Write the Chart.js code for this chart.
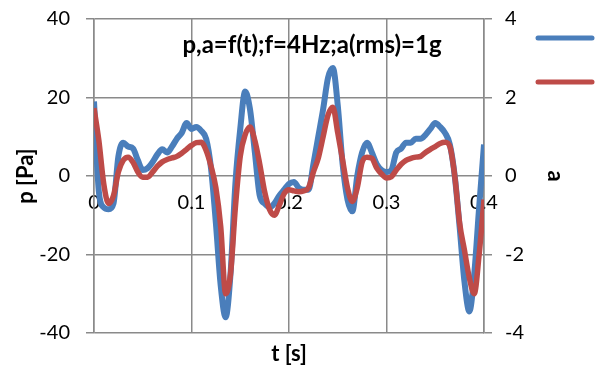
<!DOCTYPE html>
<html>
<head>
<meta charset="utf-8">
<script src="https://cdn.jsdelivr.net/npm/chart.js@4/dist/chart.umd.min.js"></script>
<style>
  html, body { margin: 0; padding: 0; background: #fff; }
  #wrap { width: 595px; height: 367px; }
</style>
</head>
<body>
<div id="wrap"><canvas id="myChart" width="595" height="367"></canvas></div>
<script>
// time [s]
var tValues = [0,0.005,0.01,0.015,0.02,0.025,0.03,0.035,0.04,0.045,
  0.05,0.055,0.06,0.065,0.07,0.075,0.08,0.085,0.09,0.095,
  0.1,0.105,0.11,0.115,0.12,0.125,0.13,0.135,0.14,0.145,
  0.15,0.155,0.16,0.165,0.17,0.175,0.18,0.185,0.19,0.195,
  0.2,0.205,0.21,0.215,0.22,0.225,0.23,0.235,0.24,0.245,
  0.25,0.255,0.26,0.265,0.27,0.275,0.28,0.285,0.29,0.295,
  0.3,0.305,0.31,0.315,0.32,0.325,0.33,0.335,0.34,0.345,
  0.35,0.355,0.36,0.365,0.37,0.375,0.38,0.385,0.39,0.395,0.4];

// pressure p [Pa] (blue, left axis)
var pValues = [19,-4,-8,-8.5,-7,5,8.5,7.5,7,4,
  1.5,2,3.5,5.5,6.8,6,7.5,9.5,11,13.5,
  12,12.5,11.5,9.5,2,-12,-28,-36,-25,-2,
  12,21.5,17,6,-5,-7,-8,-7,-5,-3.5,
  -2,-1.5,-3,-3.5,-3.5,3,10,17,25,27.5,
  18,3,-6,-9,0,6,8.5,6,3,1.5,
  1,1.5,6,7,8.5,8.5,9.5,9.5,10.5,12,
  13.5,12.5,11,8,0,-13,-27,-34.5,-25,-8,8];

// acceleration a (red, right axis)
var aValues = [1.73,0.9,-0.2,-0.7,-0.5,0.1,0.4,0.48,0.35,0.1,
  -0.03,-0.03,0.1,0.25,0.36,0.42,0.46,0.5,0.58,0.68,
  0.78,0.85,0.86,0.65,0.25,-0.3,-1.3,-3.0,-2.5,-0.8,
  0.5,1.05,1.25,0.9,0.3,-0.4,-0.85,-1.0,-0.75,-0.45,
  -0.35,-0.38,-0.4,-0.38,-0.3,0.1,0.45,1.0,1.55,1.75,
  1.1,0.4,-0.3,-0.65,-0.3,0.35,0.48,0.45,0.2,0.05,
  -0.05,-0.02,0.15,0.3,0.4,0.45,0.48,0.5,0.6,0.68,
  0.75,0.83,0.86,0.75,0,-1.2,-1.9,-2.6,-3.0,-2.0,-0.6];

var pPoints = tValues.map(function (t, i) { return {x: t, y: pValues[i]}; });
var aPoints = tValues.map(function (t, i) { return {x: t, y: aValues[i]}; });

var gridColor = "#8a8a8a";
var fontName = "Lato, 'Open Sans', sans-serif";

var extras = {
  id: "extras",
  afterDraw: function (chart) {
    var ctx = chart.ctx;
    ctx.save();
    ctx.fillStyle = "#000";
    ctx.font = "bold 24px " + fontName;
    ctx.textAlign = "center";
    ctx.textBaseline = "middle";
    ctx.fillText("p,a=f(t);f=4Hz;a(rms)=1g", 312, 45);
    // legend keys
    ctx.lineCap = "round";
    ctx.lineWidth = 5;
    ctx.strokeStyle = "#4a7ebb";
    ctx.beginPath(); ctx.moveTo(538, 38); ctx.lineTo(592, 38); ctx.stroke();
    ctx.strokeStyle = "#be4b48";
    ctx.beginPath(); ctx.moveTo(538, 82); ctx.lineTo(592, 82); ctx.stroke();
    ctx.restore();
  }
};

function fitY(w) {
  return function (s) {
    s.width = w;
    s.paddingTop = 12;
    s.paddingBottom = 12;
  };
}

new Chart("myChart", {
  type: "line",
  data: {
    datasets: [{
      label: "a",
      data: aPoints,
      yAxisID: "y2",
      borderColor: "#be4b48",
      borderWidth: 5.5,
      pointRadius: 0,
      cubicInterpolationMode: "monotone",
      fill: false,
      order: 0
    }, {
      label: "p",
      data: pPoints,
      yAxisID: "y",
      borderColor: "#4a7ebb",
      borderWidth: 6,
      pointRadius: 0,
      cubicInterpolationMode: "monotone",
      fill: false,
      order: 1
    }]
  },
  options: {
    responsive: false,
    animation: false,
    layout: {padding: {top: 19, right: 0, bottom: 0, left: 0}},
    plugins: {
      legend: {display: false},
      tooltip: {enabled: false}
    },
    scales: {
      x: {
        type: "linear",
        position: {y: 0},
        min: 0, max: 0.4,
        grid: {color: gridColor, lineWidth: 1.5, drawTicks: false},
        border: {display: false},
        ticks: {
          stepSize: 0.1, padding: 15, color: "#000",
          font: {family: fontName, size: 20},
          callback: function (v) { return String(+v.toFixed(1)); }
        }
      },
      x2: {
        type: "linear",
        position: "bottom",
        min: 0, max: 0.4,
        grid: {display: false},
        border: {display: false},
        ticks: {display: false},
        title: {display: true, text: "t [s]", color: "#000",
          font: {family: fontName, size: 22, weight: "bold"}, padding: {top: 4, bottom: 0}},
        afterFit: function (s) { s.height = 34; }
      },
      y: {
        position: "left",
        min: -40, max: 40,
        grid: {color: gridColor, lineWidth: 1.5, tickLength: 8},
        border: {color: gridColor, width: 1.5},
        ticks: {stepSize: 20, padding: 16, color: "#000", font: {family: fontName, size: 20}},
        title: {display: true, text: "p [Pa]", color: "#000",
          font: {family: fontName, size: 22, weight: "bold"}, padding: {top: 13, bottom: 0}},
        afterFit: fitY(94)
      },
      y2: {
        position: "right",
        min: -4, max: 4,
        grid: {color: gridColor, lineWidth: 1.5, tickLength: 8, drawOnChartArea: false},
        border: {color: gridColor, width: 1.5},
        ticks: {stepSize: 2, padding: 13, color: "#000", font: {family: fontName, size: 20}},
        title: {display: true, text: "a", color: "#000",
          font: {family: fontName, size: 22, weight: "bold"}, padding: {top: 27, bottom: 0}},
        afterFit: fitY(111)
      }
    }
  },
  plugins: [extras]
});
</script>
</body>
</html>
